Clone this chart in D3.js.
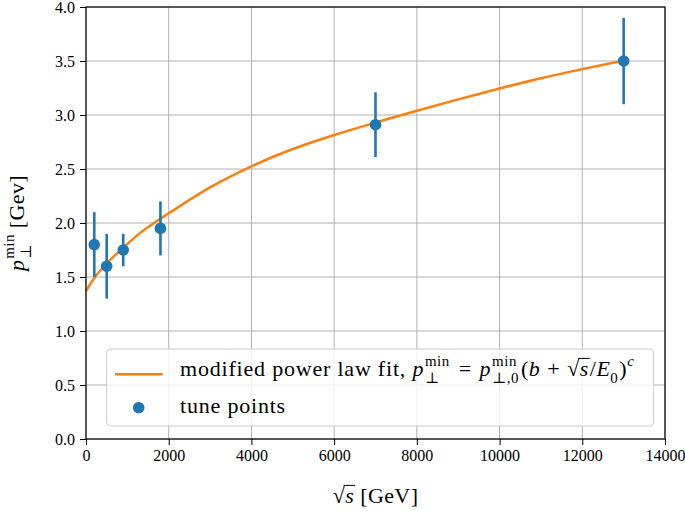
<!DOCTYPE html>
<html>
<head>
<meta charset="utf-8">
<script src="https://cdn.jsdelivr.net/npm/d3@7"></script>
<style>
  html, body { margin: 0; padding: 0; background: #fff; }
  svg { display: block; font-family: "Liberation Serif", "DejaVu Serif", serif; }
</style>
</head>
<body>
<svg id="chart" width="685" height="511"></svg>
<script>
// ---- data ----
const sqrtS = [200, 500, 900, 1800, 7000, 13000];
const pTmin = [1.8, 1.6, 1.75, 1.95, 2.91, 3.5];
const pTerr = [0.3, 0.3, 0.15, 0.25, 0.3, 0.4];

const fitX = [0, 200, 500, 900, 1250, 1800, 2000, 3000, 4000, 5000, 6000, 7000, 8000, 9000, 10000, 11000, 12000, 13000];
const fitY = [1.37, 1.49, 1.625, 1.77, 1.89, 2.04, 2.09, 2.33, 2.525, 2.685, 2.815, 2.93, 3.04, 3.145, 3.245, 3.34, 3.425, 3.505];

const xTicks = [0, 2000, 4000, 6000, 8000, 10000, 12000, 14000];
const yTicks = [0.0, 0.5, 1.0, 1.5, 2.0, 2.5, 3.0, 3.5, 4.0];

const legendLabels = ["modified power law fit, ", "tune points"];

// ---- setup ----
const svg = d3.select("#chart");
const L = 86, R = 665, T = 7, B = 439;
const x = d3.scaleLinear().domain([0, 14000]).range([L, R]);
const y = d3.scaleLinear().domain([0, 4]).range([B, T]);
const blue = "#1f77b4", orange = "#ff7f0e";

// grid
const grid = svg.append("g").attr("stroke", "#b0b0b0").attr("stroke-width", 1);
grid.selectAll(".gx").data(xTicks).join("line")
  .attr("x1", d => x(d)).attr("x2", d => x(d)).attr("y1", T).attr("y2", B);
grid.selectAll(".gy").data(yTicks).join("line")
  .attr("x1", L).attr("x2", R).attr("y1", d => y(d)).attr("y2", d => y(d));

// fit curve
const fitData = fitX.map((v, i) => [v, fitY[i]]);
svg.append("path").datum(fitData)
  .attr("fill", "none").attr("stroke", orange).attr("stroke-width", 2.5)
  .attr("d", d3.line().x(d => x(d[0])).y(d => y(d[1])).curve(d3.curveMonotoneX));

// error bars + points
const pts = sqrtS.map((v, i) => ({ x: v, y: pTmin[i], e: pTerr[i] }));
svg.append("g").selectAll("line").data(pts).join("line")
  .attr("x1", d => x(d.x)).attr("x2", d => x(d.x))
  .attr("y1", d => y(d.y - d.e)).attr("y2", d => y(d.y + d.e))
  .attr("stroke", blue).attr("stroke-width", 2.6);
svg.append("g").selectAll("circle").data(pts).join("circle")
  .attr("cx", d => x(d.x)).attr("cy", d => y(d.y)).attr("r", 5.8).attr("fill", blue);

// axes
const xAxis = svg.append("g").attr("transform", `translate(0,${B})`)
  .call(d3.axisBottom(x).tickValues(xTicks).tickSize(6).tickPadding(4.5).tickFormat(d3.format("d")));
const yAxis = svg.append("g").attr("transform", `translate(${L},0)`)
  .call(d3.axisLeft(y).tickValues(yTicks).tickSize(6).tickPadding(5).tickFormat(d3.format(".1f")));
[xAxis, yAxis].forEach(a => {
  a.select(".domain").remove();
  a.selectAll(".tick line").attr("stroke", "#000").attr("stroke-width", 1);
  a.selectAll(".tick text").attr("fill", "#000").attr("font-size", 16)
    .attr("font-family", "Liberation Serif, DejaVu Serif, serif");
});

// frame
svg.append("rect").attr("x", L).attr("y", T).attr("width", R - L).attr("height", B - T)
  .attr("fill", "none").attr("stroke", "#000").attr("stroke-width", 1.2);

// ---- math text helper ----
function seg(g, txt, px, py, size, italic, ls) {
  const t = g.append("text").attr("x", px).attr("y", py)
    .attr("font-size", size).attr("font-style", italic ? "italic" : "normal")
    .attr("fill", "#000").style("white-space", "pre").text(txt);
  if (ls) t.attr("letter-spacing", ls);
  return t.node().getComputedTextLength();
}
function mathRun(g, x0, y0, parts, size, mls) {
  let cx = x0;
  const m = mls || 0;
  parts.forEach(p => {
    if (p.gap !== undefined) { cx += p.gap; return; }
    if (p.sqrt) {
      const wr = seg(g, "√", cx, y0, size, false);
      const ws = seg(g, p.sqrt, cx + wr + 0.5, y0, size, true, m);
      const ly = y0 - 0.80 * size;
      g.append("line").attr("x1", cx + wr - 1).attr("x2", cx + wr + ws + 1.5)
        .attr("y1", ly).attr("y2", ly).attr("stroke", "#000").attr("stroke-width", 1);
      cx += wr + ws + 1.5;
      return;
    }
    if (p.sup !== undefined || p.sub !== undefined) {
      let w1 = 0, w2 = 0;
      const sx = cx + (p.kern || 0);
      if (p.sup !== undefined) w1 = seg(g, p.sup, sx, y0 - 0.46 * size, size * 0.68, p.supI, m);
      if (p.sub !== undefined) w2 = seg(g, p.sub, sx, y0 + 0.34 * size, size * 0.68, p.subI, m);
      cx = sx + Math.max(w1, w2) + 1;
      return;
    }
    cx += seg(g, p.t, cx, y0, size, p.i, p.ls !== undefined ? p.ls : m);
  });
  return cx - x0;
}

// ---- axis labels ----
const xl = svg.append("g");
const xlw = mathRun(xl, 0, 0, [{ sqrt: "s" }, { gap: 5 }, { t: "[GeV]" }], 22, 0.4);
xl.attr("transform", `translate(${(L + R) / 2 - xlw / 2},503)`);

const yl = svg.append("g");
const ylw = mathRun(yl, 0, 0, [{ t: "p", i: true }, { sup: "min", sub: "⊥", kern: 1 }, { gap: 5 }, { t: "[Gev]" }], 22, 0.4);
yl.attr("transform", `translate(24,${(T + B) / 2 + ylw / 2}) rotate(-90)`);

// ---- legend ----
const lg = svg.append("g");
lg.append("rect").attr("x", 106.7).attr("y", 349).attr("width", 547).attr("height", 77)
  .attr("rx", 4).attr("fill", "#fff").attr("fill-opacity", 0.8)
  .attr("stroke", "#cccccc").attr("stroke-width", 1);
lg.append("line").attr("x1", 115).attr("x2", 162.7).attr("y1", 374.3).attr("y2", 374.3)
  .attr("stroke", orange).attr("stroke-width", 2.5);
lg.append("circle").attr("cx", 138.7).attr("cy", 407.7).attr("r", 5.8).attr("fill", blue);

mathRun(lg, 180, 376, [
  { t: legendLabels[0], ls: 0.8 },
  { t: "p", i: true }, { sup: "min", sub: "⊥", kern: 1 },
  { gap: 8 }, { t: "=" }, { gap: 8 },
  { t: "p", i: true }, { sup: "min", sub: "⊥,0", kern: 1 },
  { gap: 1 }, { t: "(" }, { t: "b", i: true }, { gap: 7 }, { t: "+" }, { gap: 7 },
  { sqrt: "s" }, { t: "/" }, { t: "E", i: true }, { sub: "0" }, { t: ")" },
  { sup: "c", supI: true }
], 22, 0.5);
mathRun(lg, 180, 412.7, [{ t: legendLabels[1], ls: 0.8 }], 22);
</script>
</body>
</html>
